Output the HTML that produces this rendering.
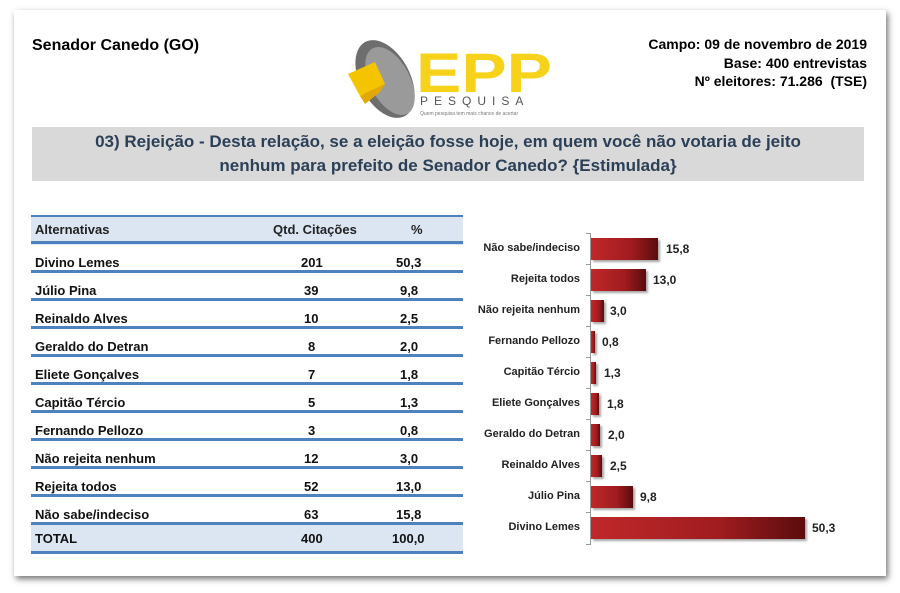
<!DOCTYPE html>
<html><head><meta charset="utf-8"><style>
body{margin:0;width:900px;height:593px;background:#fff;position:relative;overflow:hidden;font-family:"Liberation Sans",Arial,sans-serif}
.a{position:absolute}
.card{left:14px;top:10px;width:872px;height:566px;background:#fff;box-shadow:2px 3px 6px rgba(0,0,0,.55)}
.b{font-weight:bold}
.row{position:absolute;left:31px;width:432px;height:28px;font-size:13px;font-weight:bold;color:#111}
.row span{position:absolute;top:6px}
.ln{position:absolute;left:31px;width:432px;height:3px;background:#4f81bd}
.lab{position:absolute;width:110px;text-align:right;left:470px;font-size:11px;font-weight:bold;color:#222}
.bar{position:absolute;left:591px;height:22px;background:linear-gradient(90deg,#c0282a,#a01c1f 60%,#5a0c0e);box-shadow:2px 2px 2px rgba(0,0,0,.35)}
.val{position:absolute;font-size:12px;font-weight:bold;color:#222}
</style></head><body>
<div class="a card"></div>
<div class="a b" style="left:32px;top:37px;font-size:16px">Senador Canedo (GO)</div>
<div class="a b" style="right:33px;top:35px;font-size:14px;text-align:right;line-height:18.5px">Campo: 09 de novembro de 2019<br>Base: 400 entrevistas<br>Nº eleitores: 71.286&nbsp; (TSE)</div>
<svg class="a" style="left:340px;top:34px" width="220" height="90">
<ellipse cx="45" cy="45" rx="25" ry="42" fill="#6e6e6e" transform="rotate(-28 45 45)"/>
<ellipse cx="50" cy="47" rx="20" ry="37" fill="#9a9a9a" transform="rotate(-28 50 47)"/>
<polygon points="8,40 35,28 45,50 20,62" fill="#f5c400"/>
<polygon points="20,62 45,50 40,58 25,70" fill="#e0a800"/>
<text x="76" y="58" font-family="Liberation Sans" font-size="56" font-weight="bold" fill="#f7d21a" textLength="136" lengthAdjust="spacingAndGlyphs">EPP</text>
<text x="80" y="71" font-family="Liberation Sans" font-size="12" fill="#555" letter-spacing="6">PESQUISA</text>
<text x="80" y="81" font-family="Liberation Sans" font-size="5" fill="#777">Quem pesquisa tem mais chance de acertar</text>
</svg>
<div class="a b" style="left:32px;top:127px;width:832px;height:54px;background:#d9d9d9;color:#2b3f57;font-size:17px;text-align:center;line-height:24px;padding-top:3px;box-sizing:border-box">03) Rejeição - Desta relação, se a eleição fosse hoje, em quem você não votaria de jeito<br>nenhum para prefeito de Senador Canedo? {Estimulada}</div>
<div class="a" style="left:31px;top:215px;width:432px;height:28px;background:#dce6f2;border-top:2px solid #4f81bd"></div>
<div class="a" style="left:31px;top:525px;width:432px;height:28px;background:#dce6f2"></div>
<div class="row" style="top:216px;font-weight:bold;color:#222"><span style="left:4px">Alternativas</span><span style="left:242px">Qtd. Citações</span><span style="left:380px">%</span></div>
<div class="ln" style="top:241px"></div>
<div class="ln" style="top:270px"></div>
<div class="ln" style="top:298px"></div>
<div class="ln" style="top:326px"></div>
<div class="ln" style="top:354px"></div>
<div class="ln" style="top:382px"></div>
<div class="ln" style="top:410px"></div>
<div class="ln" style="top:438px"></div>
<div class="ln" style="top:466px"></div>
<div class="ln" style="top:494px"></div>
<div class="ln" style="top:522px"></div>
<div class="ln" style="top:551px"></div>
<div class="row" style="top:249px"><span style="left:4px">Divino Lemes</span><span style="left:270px">201</span><span style="left:365px">50,3</span></div>
<div class="row" style="top:277px"><span style="left:4px">Júlio Pina</span><span style="left:273px">39</span><span style="left:369px">9,8</span></div>
<div class="row" style="top:305px"><span style="left:4px">Reinaldo Alves</span><span style="left:273px">10</span><span style="left:369px">2,5</span></div>
<div class="row" style="top:333px"><span style="left:4px">Geraldo do Detran</span><span style="left:277px">8</span><span style="left:369px">2,0</span></div>
<div class="row" style="top:361px"><span style="left:4px">Eliete Gonçalves</span><span style="left:277px">7</span><span style="left:369px">1,8</span></div>
<div class="row" style="top:389px"><span style="left:4px">Capitão Tércio</span><span style="left:277px">5</span><span style="left:369px">1,3</span></div>
<div class="row" style="top:417px"><span style="left:4px">Fernando Pellozo</span><span style="left:277px">3</span><span style="left:369px">0,8</span></div>
<div class="row" style="top:445px"><span style="left:4px">Não rejeita nenhum</span><span style="left:273px">12</span><span style="left:369px">3,0</span></div>
<div class="row" style="top:473px"><span style="left:4px">Rejeita todos</span><span style="left:273px">52</span><span style="left:365px">13,0</span></div>
<div class="row" style="top:501px"><span style="left:4px">Não sabe/indeciso</span><span style="left:273px">63</span><span style="left:365px">15,8</span></div>
<div class="row" style="top:525px"><span style="left:4px">TOTAL</span><span style="left:270px">400</span><span style="left:361px">100,0</span></div>
<div class="a" style="left:590px;top:233px;width:1px;height:312px;background:#999"></div>
<svg class="a" style="left:586px;top:233px" width="6" height="315"><g stroke="#999"><line x1="0" x2="5" y1="0.5" y2="0.5"/><line x1="0" x2="5" y1="31.5" y2="31.5"/><line x1="0" x2="5" y1="62.5" y2="62.5"/><line x1="0" x2="5" y1="93.5" y2="93.5"/><line x1="0" x2="5" y1="124.5" y2="124.5"/><line x1="0" x2="5" y1="155.5" y2="155.5"/><line x1="0" x2="5" y1="186.5" y2="186.5"/><line x1="0" x2="5" y1="217.5" y2="217.5"/><line x1="0" x2="5" y1="248.5" y2="248.5"/><line x1="0" x2="5" y1="279.5" y2="279.5"/><line x1="0" x2="5" y1="311.5" y2="311.5"/></g></svg>
<div class="lab" style="top:242px">Não sabe/indeciso</div><div class="bar" style="top:238px;width:67px"></div><div class="val" style="left:666px;top:242px">15,8</div>
<div class="lab" style="top:273px">Rejeita todos</div><div class="bar" style="top:269px;width:55px"></div><div class="val" style="left:653px;top:273px">13,0</div>
<div class="lab" style="top:304px">Não rejeita nenhum</div><div class="bar" style="top:300px;width:13px"></div><div class="val" style="left:610px;top:304px">3,0</div>
<div class="lab" style="top:335px">Fernando Pellozo</div><div class="bar" style="top:331px;width:4px"></div><div class="val" style="left:602px;top:335px">0,8</div>
<div class="lab" style="top:366px">Capitão Tércio</div><div class="bar" style="top:362px;width:5px"></div><div class="val" style="left:604px;top:366px">1,3</div>
<div class="lab" style="top:397px">Eliete Gonçalves</div><div class="bar" style="top:393px;width:8px"></div><div class="val" style="left:607px;top:397px">1,8</div>
<div class="lab" style="top:428px">Geraldo do Detran</div><div class="bar" style="top:424px;width:9px"></div><div class="val" style="left:608px;top:428px">2,0</div>
<div class="lab" style="top:459px">Reinaldo Alves</div><div class="bar" style="top:455px;width:11px"></div><div class="val" style="left:610px;top:459px">2,5</div>
<div class="lab" style="top:490px">Júlio Pina</div><div class="bar" style="top:486px;width:42px"></div><div class="val" style="left:640px;top:490px">9,8</div>
<div class="lab" style="top:521px">Divino Lemes</div><div class="bar" style="top:517px;width:214px"></div><div class="val" style="left:812px;top:521px">50,3</div>
</body></html>
